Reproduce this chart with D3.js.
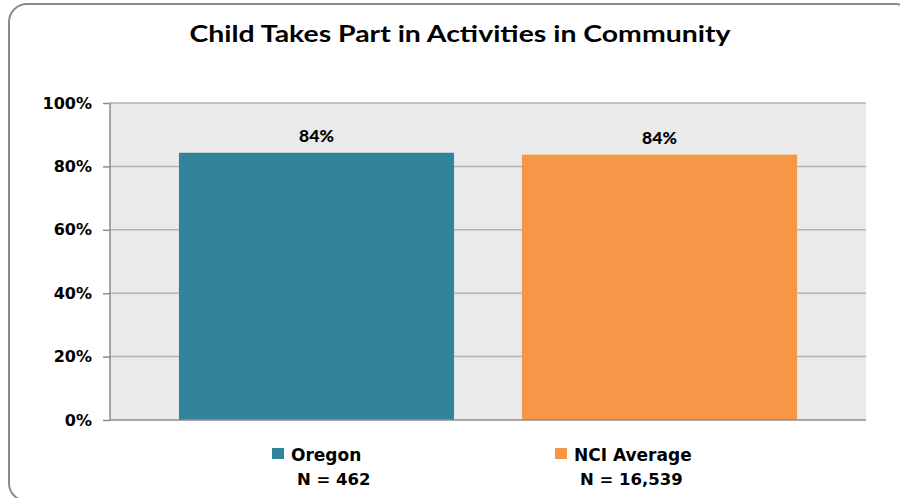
<!DOCTYPE html>
<html>
<head>
<meta charset="utf-8">
<script src="https://cdn.jsdelivr.net/npm/d3@7"></script>
<style>
html,body{margin:0;padding:0;background:#fff;}
svg{display:block;}
</style>
</head>
<body>
<svg id="chart" width="900" height="498"></svg>
<script>
const title = "Child Takes Part in Activities in Community";
const seriesNames = ["Oregon", "NCI Average"];
const seriesN = ["N = 462", "N = 16,539"];
const values = [84.3, 83.7];
const colors = ["#31849B", "#F79646"];
const yTicks = [0, 20, 40, 60, 80, 100];

const svg = d3.select("#chart");
const plot = {left: 110, right: 866, top: 103, bottom: 420};

// outer rounded border
svg.append("rect")
  .attr("x", 9).attr("y", 4).attr("width", 905).attr("height", 497)
  .attr("rx", 18).attr("ry", 18)
  .attr("fill", "#fff").attr("stroke", "#8a8a8a").attr("stroke-width", 2);

// title
svg.append("text")
  .attr("x", 460).attr("y", 42)
  .attr("text-anchor", "middle")
  .attr("font-family", "Lato, 'Open Sans', sans-serif")
  .attr("font-weight", "bold")
  .attr("font-size", 23)
  .attr("textLength", 541).attr("lengthAdjust", "spacingAndGlyphs")
  .attr("fill", "#000")
  .text(title);

const x = d3.scaleBand()
  .domain(seriesNames)
  .range([plot.left, plot.right])
  .paddingInner(0.198)
  .paddingOuter(0.201);

const y = d3.scaleLinear().domain([0, 100]).range([plot.bottom, plot.top]);

// plot background
svg.append("rect")
  .attr("x", plot.left).attr("y", plot.top)
  .attr("width", plot.right - plot.left).attr("height", plot.bottom - plot.top)
  .attr("fill", "#EAEAEA");

// gridlines
svg.append("g").selectAll("line")
  .data(yTicks.filter(d => d > 0))
  .join("line")
  .attr("x1", plot.left).attr("x2", plot.right)
  .attr("y1", d => y(d)).attr("y2", d => y(d))
  .attr("stroke", "#B4B4B4").attr("stroke-width", 1.5);

// bars
svg.append("g").selectAll("rect")
  .data(values)
  .join("rect")
  .attr("x", (d, i) => x(seriesNames[i]))
  .attr("width", x.bandwidth())
  .attr("y", d => y(d))
  .attr("height", d => y(0) - y(d))
  .attr("fill", (d, i) => colors[i]);

// data labels
svg.append("g").selectAll("text")
  .data(values)
  .join("text")
  .attr("x", (d, i) => x(seriesNames[i]) + x.bandwidth() / 2)
  .attr("y", d => y(d) - 11)
  .attr("text-anchor", "middle")
  .attr("font-family", "Lato, 'Open Sans', sans-serif")
  .attr("font-weight", 900)
  .attr("font-size", 17.5)
  .attr("fill", "#000")
  .text(d => Math.round(d) + "%");

// y axis
const yAxis = d3.axisLeft(y).tickValues(yTicks).tickSize(7).tickPadding(11)
  .tickFormat(d => d + "%");
const gy = svg.append("g").attr("transform", `translate(${plot.left},0)`).call(yAxis);
gy.select(".domain").attr("stroke", "#8c8c8c").attr("stroke-width", 1.5)
  .attr("d", `M0,${plot.top}V${plot.bottom}`);
gy.selectAll(".tick line").attr("stroke", "#8c8c8c").attr("stroke-width", 1.5);
gy.selectAll(".tick text")
  .attr("font-family", "'DejaVu Sans', Verdana, sans-serif")
  .attr("font-weight", "bold")
  .attr("font-size", 16)
  .attr("fill", "#000");

// x axis baseline
svg.append("line")
  .attr("x1", plot.left).attr("x2", plot.right)
  .attr("y1", y(0)).attr("y2", y(0))
  .attr("stroke", "#8c8c8c").attr("stroke-width", 1.5);

// legend
const legendX = [272, 555];
const lg = svg.append("g").selectAll("g")
  .data(seriesNames)
  .join("g")
  .attr("transform", (d, i) => `translate(${legendX[i]},0)`);
lg.append("rect")
  .attr("x", 0).attr("y", 448).attr("width", 12).attr("height", 11)
  .attr("fill", (d, i) => colors[i]);
lg.append("text")
  .attr("x", 19).attr("y", 461)
  .attr("font-family", "'DejaVu Sans', Verdana, sans-serif")
  .attr("font-weight", "bold")
  .attr("font-size", 17)
  .attr("fill", "#000")
  .text(d => d);
lg.append("text")
  .attr("x", 25)
  .attr("y", 485)
  .attr("font-family", "'DejaVu Sans', Verdana, sans-serif")
  .attr("font-weight", "bold")
  .attr("font-size", 16.5)
  .attr("fill", "#000")
  .text((d, i) => seriesN[i]);
</script>
</body>
</html>
